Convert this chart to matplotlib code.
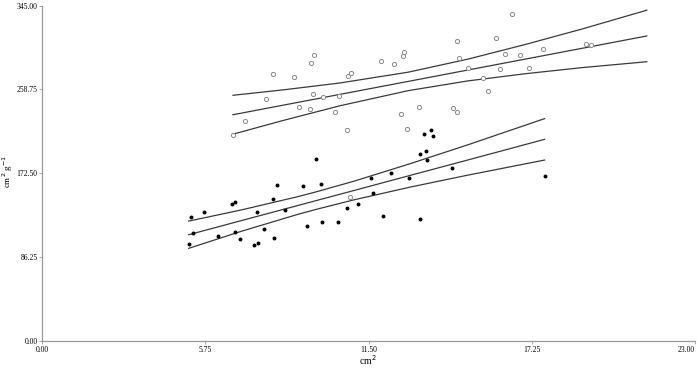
import matplotlib

matplotlib.use("Agg")

import matplotlib.pyplot as plt
import numpy as np

# open circles (upper group)
open_x = [6.72, 7.16, 7.87, 8.12, 8.88, 9.05, 9.42, 9.48, 9.56, 9.54, 9.90, 10.30,
          10.45, 10.75, 10.76, 10.87, 11.93, 12.39, 12.64, 12.72, 12.73, 12.84, 13.28,
          14.61, 15.98, 14.68, 14.99, 16.31, 16.84, 17.64, 19.17, 19.33, 16.12, 17.16,
          15.52, 15.71, 14.48, 14.62, 16.56, 10.84]
open_y = [212.1, 226.5, 248.8, 274.2, 271.5, 240.6, 238.3, 285.6, 293.8, 254.0, 251.2,
          236.0, 251.9, 216.7, 272.5, 275.3, 287.9, 285.1, 233.1, 292.7, 297.2, 218.0,
          240.3, 308.5, 311.3, 291.0, 280.4, 295.4, 294.4, 299.9, 305.4, 304.1, 279.4,
          280.4, 270.7, 256.8, 239.6, 235.5, 335.9, 147.8]

# filled dots (lower group)
fill_x = [5.16, 5.23, 5.30, 5.71, 6.19, 6.67, 6.78, 6.79, 6.96, 7.46, 7.61, 7.57, 7.81,
          8.13, 8.15, 8.28, 8.56, 9.20, 9.32, 9.63, 9.81, 9.85, 10.41, 10.73, 11.11,
          11.59, 11.65, 11.99, 12.29, 12.92, 13.30, 13.30, 13.44, 13.53, 13.57, 13.71,
          13.78, 14.43, 17.70]
fill_y = [100.1, 127.5, 111.1, 132.3, 108.0, 141.2, 142.6, 112.1, 104.6, 98.7, 101.1,
          133.0, 115.5, 146.3, 105.6, 160.4, 135.0, 159.4, 117.9, 187.5, 161.7, 122.4,
          122.1, 136.5, 140.9, 167.6, 152.2, 128.8, 173.1, 167.6, 192.3, 125.4, 212.5,
          195.7, 185.8, 217.0, 211.1, 177.9, 169.4]

# fit line and confidence band, upper group
open_fit_x = [6.72, 8.5, 10.5, 12.9, 15.0, 17.0, 19.0, 21.3]
open_fit_mid = [232.7, 242.6, 253.7, 267.0, 278.7, 289.8, 300.9, 313.7]
open_fit_hi = [252.7, 258.3, 265.4, 276.5, 289.9, 304.8, 320.7, 340.2]
open_fit_lo = [212.7, 226.9, 242.0, 257.5, 267.5, 274.8, 281.1, 287.2]

# fit line and confidence band, lower group
fill_fit_x = [5.16, 7.0, 9.0, 9.64, 11.0, 13.0, 15.0, 17.70]
fill_fit_mid = [109.3, 123.7, 139.3, 144.3, 154.9, 170.6, 186.2, 207.4]
fill_fit_hi = [123.3, 134.7, 148.4, 153.3, 164.5, 182.7, 201.8, 228.7]
fill_fit_lo = [95.3, 112.7, 130.2, 135.3, 145.3, 158.5, 170.6, 186.1]

x_ticks = [0.00, 5.75, 11.50, 17.25, 23.00]
y_ticks = [0.00, 86.25, 172.50, 258.75, 345.00]

plt.rcParams["font.family"] = ["Liberation Serif", "DejaVu Serif"]

fig = plt.figure(figsize=(7.0, 3.69), dpi=100)
ax = fig.add_axes([0.0604, 0.0759, 0.9325, 0.9091])

line_kw = dict(color="#3a3a3a", lw=0.9)
for xs, ys in [(open_fit_x, open_fit_hi), (open_fit_x, open_fit_mid), (open_fit_x, open_fit_lo),
               (fill_fit_x, fill_fit_hi), (fill_fit_x, fill_fit_mid), (fill_fit_x, fill_fit_lo)]:
    ax.plot(xs, ys, **line_kw)

ax.scatter(open_x, open_y, s=9, facecolors="white", edgecolors="#8a8a8a", linewidths=0.7, zorder=3)
ax.scatter(fill_x, fill_y, s=8, color="black", linewidths=0, zorder=3)

ax.set_xlim(0, 23)
ax.set_ylim(0, 345)
ax.set_xticks(x_ticks)
ax.set_yticks(y_ticks)
ax.set_xticklabels([f"{t:.2f}" for t in x_ticks])
ax.set_yticklabels([f"{t:.2f}" for t in y_ticks])
ax.tick_params(axis="both", labelsize=5.5, length=2.5, width=0.6, color="#999999", pad=1)
ax.get_xticklabels()[-1].set_horizontalalignment("right")

for side in ("top", "right"):
    ax.spines[side].set_visible(False)
for side in ("left", "bottom"):
    ax.spines[side].set_color("#999999")
    ax.spines[side].set_linewidth(0.9)

# axis titles placed in figure coords so they stay inside the small canvas
fig.text(368 / 700, 1 - 360 / 369, "cm$^2$", fontsize=7, ha="center", va="center")
fig.text(8 / 700, 1 - 172 / 369, "cm$^2$ g$^{-1}$", fontsize=6.5, ha="center", va="center",
         rotation=90)

fig.savefig("out.png", dpi=100)
